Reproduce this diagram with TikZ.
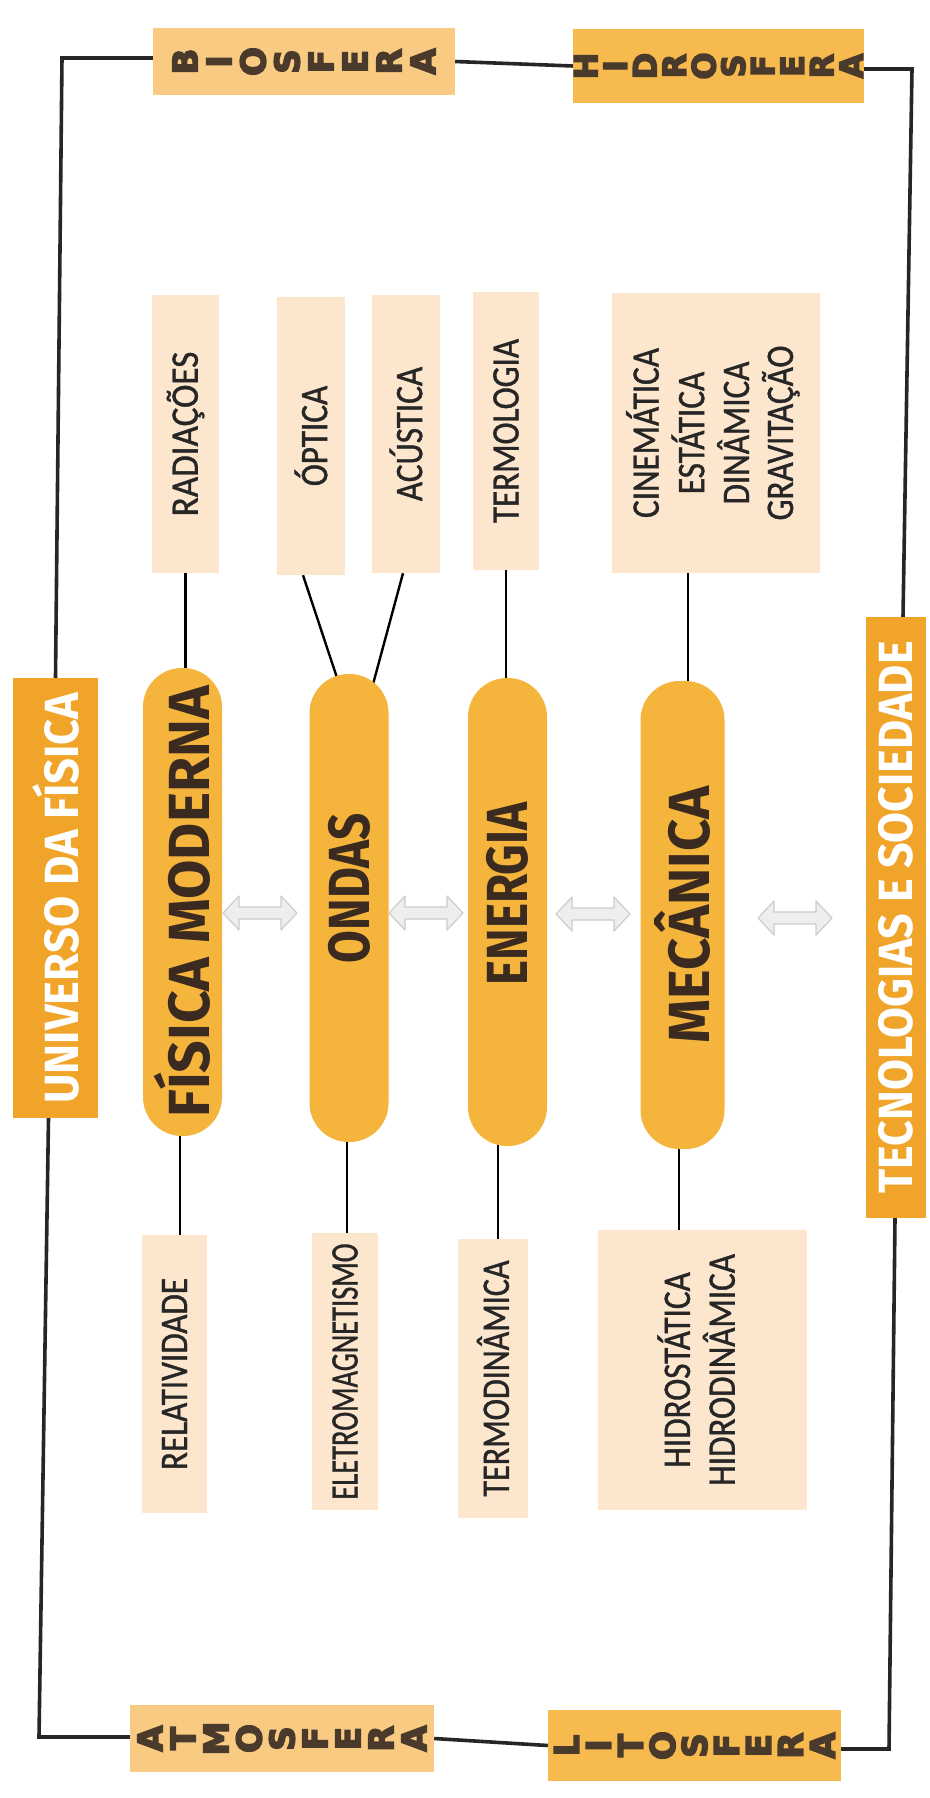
\documentclass[tikz,border=0pt]{standalone}
\usepackage{fontspec}
\usepackage{graphicx}
\usetikzlibrary{calc,backgrounds}
\newfontfamily\subf[FakeStretch=0.85,FakeBold=1]{Carlito}
\newfontfamily\pillf[FakeStretch=0.82]{Fira Sans}
\newfontfamily\letf[FakeBold=4.5]{DejaVu Sans}
\definecolor{peach}{HTML}{FCE6CD}
\definecolor{pillc}{HTML}{F5B43C}
\definecolor{bigc}{HTML}{F1A42A}
\definecolor{sphl}{HTML}{F9CB82}
\definecolor{sphd}{HTML}{F7BA4F}
\definecolor{pilltext}{HTML}{3A2A1F}
\definecolor{lettc}{HTML}{4A3A2C}
\definecolor{arrfill}{HTML}{EEEEEE}
\definecolor{arrdraw}{HTML}{CCCCCC}
\newcommand\mystack[3]{\parbox{50pt}{\fontsize{#1}{#2}\selectfont\lineskiplimit=-200pt\lineskip=0pt\centering #3}}
\tikzset{
  loopline/.style={line width=3.6pt, draw=black!85},
  conn/.style={line width=2.4pt, draw=black},
  sphere/.style={rectangle, inner sep=0pt, text=lettc, font=\letf\bfseries},
  subbox/.style={rectangle, fill=peach, inner sep=0pt, text=black!85, font=\subf\fontsize{39}{43}\selectfont},
  pill/.style={rectangle, rounded corners=39pt, fill=pillc, inner sep=0pt, minimum width=79, minimum height=468, text=pilltext, font=\pillf\bfseries\fontsize{58}{60}\selectfont},
  bigbox/.style={rectangle, fill=bigc, inner sep=0pt, text=white, font=\pillf\bfseries\fontsize{48}{50}\selectfont},
  dblarr/.style={fill=arrfill, draw=arrdraw, line width=1.2pt, line join=round},
}
\begin{document}
\begin{tikzpicture}[x=1pt,y=-1pt]
\useasboundingbox (0,0) rectangle (929,1798);

% corner points of the outer loop
\coordinate (tl) at (62,58);
\coordinate (tr) at (912,69);
\coordinate (br) at (889,1749);
\coordinate (bl) at (39,1737);

% spheres
\node[sphere, fill=sphl, minimum width=302, minimum height=67] (bio) at (304,61.5)
  {\rotatebox{90}{\mystack{34}{34}{B\\I\\O\\S\\F\\E\\R\\A}}};
\node[sphere, fill=sphd, minimum width=291, minimum height=74] (hidro) at (718.5,66)
  {\rotatebox{90}{\mystack{32}{29.5}{H\\I\\D\\R\\O\\S\\F\\E\\R\\A}}};
\node[sphere, fill=sphl, minimum width=304, minimum height=67] (atmo) at (282,1738.5)
  {\rotatebox{90}{\mystack{34}{33}{A\\T\\M\\O\\S\\F\\E\\R\\A}}};
\node[sphere, fill=sphd, minimum width=293, minimum height=71] (lito) at (694.5,1745.5)
  {\rotatebox{90}{\mystack{34}{32}{L\\I\\T\\O\\S\\F\\E\\R\\A}}};

% big side boxes
\node[bigbox, minimum width=85, minimum height=440] (univ) at (55.5,898)
  {\rotatebox{90}{\scalebox{1.15}[1]{UNIVERSO DA FÍSICA}}};
\node[bigbox, minimum width=60, minimum height=601] (tec) at (896,917.5)
  {\rotatebox{90}{\scalebox{1.14}[1]{TECNOLOGIAS E SOCIEDADE}}};

% main pills
\node[pill] (fm) at (182.5,902) {\rotatebox{90}{\scalebox{1.2}[1]{FÍSICA MODERNA}}};
\node[pill] (ondas) at (349,908) {\rotatebox{90}{\hspace*{40pt}ONDAS}};
\node[pill] (energia) at (507.5,912) {\rotatebox{90}{\hspace*{36pt}ENERGIA}};
\node[pill, minimum width=84] (mec) at (682.5,915) {\rotatebox{90}{\scalebox{1.18}[1]{MECÂNICA}}};

% upper sub-topics
\node[subbox, minimum width=67, minimum height=278] (rad) at (185.5,434) {\rotatebox{90}{\scalebox{1.06}[1]{RADIAÇÕES}}};
\node[subbox, minimum width=68, minimum height=278] (opt) at (311,436) {\rotatebox{90}{ÓPTICA}};
\node[subbox, minimum width=68, minimum height=278] (acu) at (406,434) {\rotatebox{90}{ACÚSTICA}};
\node[subbox, minimum width=66, minimum height=278] (term) at (506,431) {\rotatebox{90}{TERMOLOGIA}};
\node[subbox, minimum width=208, minimum height=280] (cine) at (716,433)
  {\rotatebox{90}{\begin{tabular}{@{}c@{}}CINEMÁTICA\\ESTÁTICA\\DINÂMICA\\GRAVITAÇÃO\end{tabular}}};

% lower sub-topics
\node[subbox, minimum width=65, minimum height=278] (rel) at (174.5,1374) {\rotatebox{90}{RELATIVIDADE}};
\node[subbox, minimum width=66, minimum height=277] (elet) at (345,1371.5)
  {\rotatebox{90}{\scalebox{0.86}[1]{ELETROMAGNETISMO}}};
\node[subbox, minimum width=70, minimum height=279] (termod) at (493,1378.5) {\rotatebox{90}{\scalebox{0.97}[1]{TERMODINÂMICA}}};
\node[subbox, minimum width=209, minimum height=280] (hidrost) at (702.5,1370)
  {\rotatebox{90}{\begin{tabular}{@{}c@{}}HIDROSTÁTICA\\HIDRODINÂMICA\end{tabular}}};

% double arrows between the pills
\coordinate (a1) at (260,913);
\coordinate (a2) at (426,913);
\coordinate (a3) at (593,914);
\coordinate (a4) at (795,918);
\foreach \a in {a1,a2,a3,a4}
  \draw[dblarr, shift={(\a)}] (-37,0) -- (-21,-17) -- (-21,-6) -- (21,-6) -- (21,-17)
    -- (37,0) -- (21,17) -- (21,6) -- (-21,6) -- (-21,17) -- cycle;

\begin{scope}[on background layer]
\fill[white] (0,0) rectangle (929,1798);
% outer loop
\draw[loopline] (tl -| bio.west) -- (tl) -- (univ.north);
\draw[loopline] ($(univ.south)+(-7,0)$) -- (bl) -- (bl -| atmo.west);
\draw[loopline] (bio.east) -- (hidro.west);
\draw[loopline] (tr -| hidro.east) -- (tr) -- ($(tec.north)+(7,0)$);
\draw[loopline] ($(tec.south)+(-1,0)$) -- (br) -- (br -| lito.east);
\draw[loopline] (lito.west) -- (atmo.east);
% connectors
\draw[conn] (rad.south) -- ($(rad.south |- fm.north)+(0,6)$);
\draw[conn] ($(opt.south)+(-8,0)$) -- ($(ondas.north)+(-8,16)$);
\draw[conn] ($(acu.south)+(-3,0)$) -- ($(ondas.north)+(22.5,16)$);
\draw[conn] (term.south) -- ($(term.south |- energia.north)+(0,6)$);
\draw[conn] ($(cine.south)+(-28,0)$) -- ($(cine.south |- mec.north)+(-28,6)$);
\draw[conn] ($(fm.south)+(-2.5,-6)$) -- ($(rel.north)+(5.5,0)$);
\draw[conn] ($(ondas.south)+(-2,-6)$) -- ($(elet.north)+(2,0)$);
\draw[conn] ($(energia.south)+(-9.5,-6)$) -- ($(termod.north)+(5,0)$);
\draw[conn] ($(mec.south)+(-3.5,-6)$) -- ($(hidrost.north)+(-23.5,0)$);
\end{scope}
\end{tikzpicture}
\end{document}
